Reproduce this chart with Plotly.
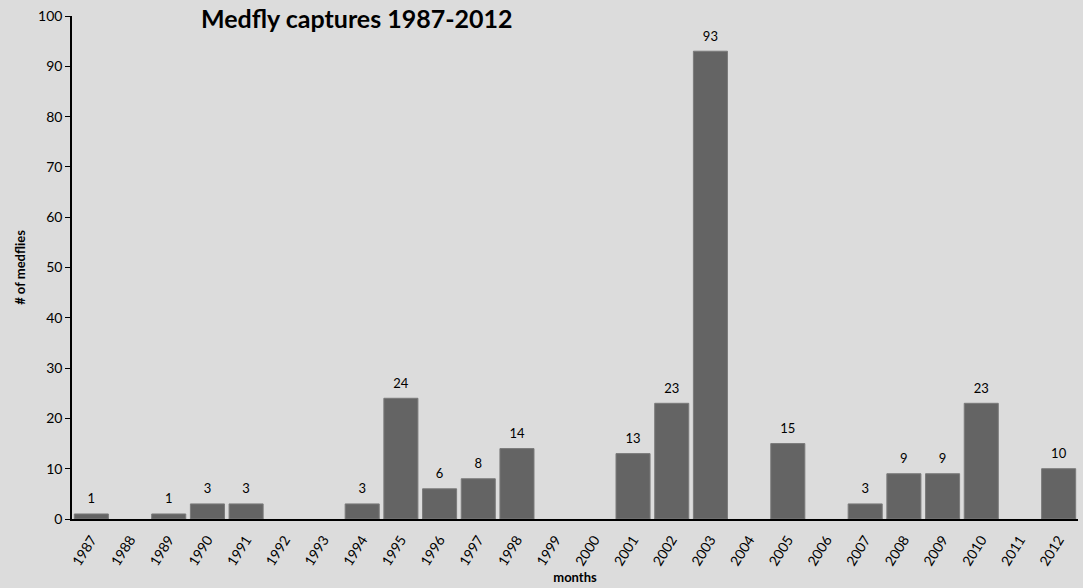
import plotly.graph_objects as go

years = [str(y) for y in range(1987, 2013)]
captures = [1, None, 1, 3, 3, None, None, 3, 24, 6, 8, 14, None, None,
            13, 23, 93, None, 15, None, 3, 9, 9, 23, None, 10]
y_ticks = list(range(0, 101, 10))

FONT = "Lato"
BG = "#dcdcdc"

fig = go.Figure()
fig.add_trace(go.Bar(
    x=years, y=captures,
    marker=dict(color="#646464", line=dict(color="#7a7a7a", width=1)),
    hoverinfo="skip",
))
fig.add_trace(go.Scatter(
    x=years, y=captures, mode="markers+text",
    marker=dict(size=10, opacity=0),
    text=[("" if v is None else str(v)) for v in captures],
    textposition="top center",
    textfont=dict(family=FONT, size=13, color="#000000"),
    cliponaxis=False,
))

fig.update_layout(
    width=1083, height=588,
    margin=dict(l=72, r=5, t=16, b=69),
    paper_bgcolor=BG, plot_bgcolor=BG,
    bargap=0.12,
    showlegend=False,
    font=dict(family=FONT, size=14, color="#000000"),
    xaxis=dict(
        type="category", categoryorder="array", categoryarray=years,
        range=[-0.5, len(years) - 0.5],
        tickangle=-58, showline=True, linecolor="#000000", linewidth=2,
        ticks="", showgrid=False, tickfont=dict(size=14), ticklabelstandoff=5,
        title=dict(text="<b>months</b>", font=dict(size=13), standoff=4),
    ),
    yaxis=dict(
        range=[0, 100], tickvals=y_ticks, showline=True, linecolor="#000000",
        linewidth=1.5, ticks="outside", ticklen=5, tickcolor="#000000",
        showgrid=False, zeroline=False, tickfont=dict(size=14),
        title=dict(text="<b># of medflies</b>", font=dict(size=13), standoff=10),
    ),
    annotations=[dict(
        text="<b>Medfly captures 1987-2012</b>",
        x=(357 - 72) / (1083 - 72 - 5), xref="paper", xanchor="center",
        y=1, yref="paper", yanchor="top", yshift=15, showarrow=False,
        font=dict(family=FONT, size=25, color="#000000"),
    )],
)

fig.write_html("out.html")
